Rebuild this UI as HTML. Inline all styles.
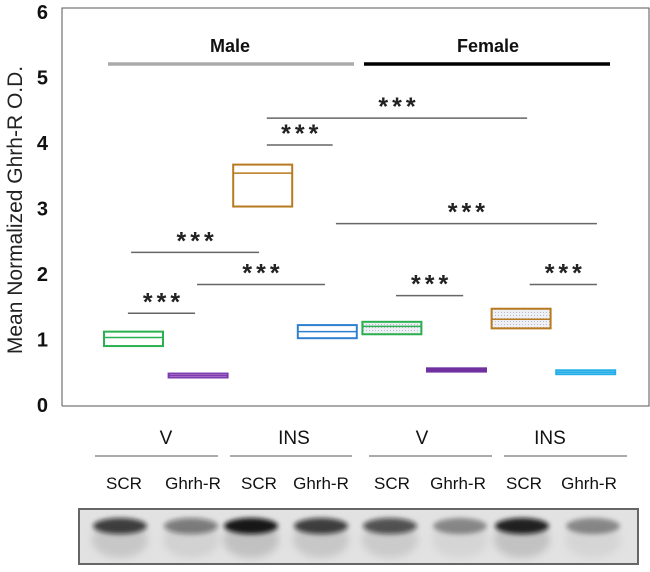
<!DOCTYPE html>
<html><head><meta charset="utf-8"><style>
body{margin:0;background:#fff;width:650px;height:567px;overflow:hidden}
svg text{font-family:"Liberation Sans",sans-serif}
</style></head><body>
<svg id="c" width="650" height="567" viewBox="0 0 650 567">
<defs><pattern id="dots" width="3" height="3" patternUnits="userSpaceOnUse"><rect width="3" height="3" fill="#eef0f6"/><rect width="1" height="1" fill="#b8bccb"/></pattern>
<filter id="blur" x="-50%" y="-50%" width="200%" height="200%"><feGaussianBlur stdDeviation="4"/></filter>
<filter id="blur2" x="-50%" y="-50%" width="200%" height="200%"><feGaussianBlur stdDeviation="2.5"/></filter></defs>
<g id="frame"></g><g id="marks"></g><g id="sig"></g><g id="bottom"></g>
</svg>
<script>
const categories=["M-V-SCR","M-V-Ghrh-R","M-INS-SCR","M-INS-Ghrh-R","F-V-SCR","F-V-Ghrh-R","F-INS-SCR","F-INS-Ghrh-R"];
const boxTop=[1.12,0.48,3.67,1.22,1.27,0.56,1.47,0.53];
const boxMid=[1.03,0.45,3.54,1.12,1.20,0.535,1.31,0.50];
const boxBottom=[0.90,0.42,3.03,1.02,1.08,0.51,1.17,0.47];
const colors=["#2bb050","#7e3bb0","#b87a1e","#2f80d0","#2bb050","#7030a0","#b87a1e","#22aee8"];
const yTicks=[0,1,2,3,4,5,6];
const sigFrom=[2.52,2.52,3.59,0.42,1.44,4.52,6.59,0.37];
const sigTo=[6.55,3.54,7.63,2.40,3.42,5.56,7.63,1.41];
const sigLevel=[4.38,3.97,2.77,2.33,1.84,1.67,1.84,1.40];
const lanes=["SCR","Ghrh-R","SCR","Ghrh-R","SCR","Ghrh-R","SCR","Ghrh-R"];
const bandIntensity=[0.8,0.5,1.0,0.8,0.7,0.4,0.95,0.4];

const NS="http://www.w3.org/2000/svg";
function el(t,a,p){const e=document.createElementNS(NS,t);for(const k in a)e.setAttribute(k,a[k]);p.appendChild(e);return e;}
const y=v=>405-65.5*v;
const x0=i=>104+i*64.6, bw=59;
const xi=p=>104+p*64.6;
const fr=document.getElementById('frame'),mk=document.getElementById('marks'),sg=document.getElementById('sig'),bt=document.getElementById('bottom');
let r=el('path',{d:'M62,406 L62,8 L649,8 L649,406 L62,406',fill:'none',stroke:'#555','stroke-width':1},fr);

yTicks.forEach(t=>{const e=el('text',{x:48,y:y(t)+7,'text-anchor':'end','font-size':20,'font-weight':'bold',fill:'#111'},fr);e.textContent=t;
});
let yt=el('text',{x:0,y:0,transform:'translate(22,210) rotate(-90)','text-anchor':'middle','font-size':21,fill:'#222'},fr);yt.textContent='Mean Normalized Ghrh-R O.D.';

[["Male",230,'#aaa',108,354],["Female",488,'#000',364,610]].forEach(g=>{
 const t=el('text',{x:g[1],y:52,'text-anchor':'middle','font-size':18,'font-weight':'bold',fill:'#111'},fr);t.textContent=g[0];
 
 const l=el('line',{x1:g[3],x2:g[4],y1:64,y2:64,stroke:g[2],'stroke-width':3.5},fr);
 });
categories.forEach((c,i)=>{
 const fill=i>=4?'url(#dots)':'#fff';
 const h=Math.max(y(boxBottom[i])-y(boxTop[i]),3);
 const b=el('rect',{x:x0(i),y:y(boxTop[i]),width:bw,height:h,fill:(i==1||i==5)?(i==5?colors[i]:'#fff'):fill,stroke:colors[i],'stroke-width':2},mk);
 
 const m=el('line',{x1:x0(i),x2:x0(i)+bw,y1:y(boxMid[i]),y2:y(boxMid[i]),stroke:colors[i],'stroke-width':1.5},mk);
 });
sigFrom.forEach((f,k)=>{
 const x1=xi(f),x2=xi(sigTo[k]),yy=y(sigLevel[k]);
 const l=el('line',{x1:x1,x2:x2,y1:yy,y2:yy,stroke:'#666','stroke-width':1.5},sg);
 
 const t=el('text',{x:(x1+x2)/2+2,y:yy-3,'text-anchor':'middle','font-size':25,'font-weight':'bold','letter-spacing':4,fill:'#222'},sg);t.textContent='***';
 });
[["V",166,95,218],["INS",294,230,352],["V",422,369,492],["INS",550,504,627]].forEach(g=>{
 const t=el('text',{x:g[1],y:444,'text-anchor':'middle','font-size':19,fill:'#111'},bt);t.textContent=g[0];
 
 const l=el('line',{x1:g[2],x2:g[3],y1:456,y2:456,stroke:'#555','stroke-width':1},bt);
 });
const laneX=[124,193,259,321,392,458,524,589];
lanes.forEach((s,i)=>{const t=el('text',{x:laneX[i],y:489,'text-anchor':'middle','font-size':17,fill:'#111'},bt);t.textContent=s;
 });
const blot=el('rect',{x:79,y:509,width:559,height:55,fill:'#e2e2e2',stroke:'#666','stroke-width':2},bt);

const bx=[120,191,251,321,390,460,522,593];
bandIntensity.forEach((v,i)=>{
 const g=el('ellipse',{cx:bx[i],cy:540,rx:28,ry:18,fill:'#999','fill-opacity':v*0.45,filter:'url(#blur)'},bt);
 
 const e=el('ellipse',{cx:bx[i],cy:526,rx:27,ry:8,fill:'#111','fill-opacity':v*0.95,filter:'url(#blur2)'},bt);
 });
</script>
</body></html>
